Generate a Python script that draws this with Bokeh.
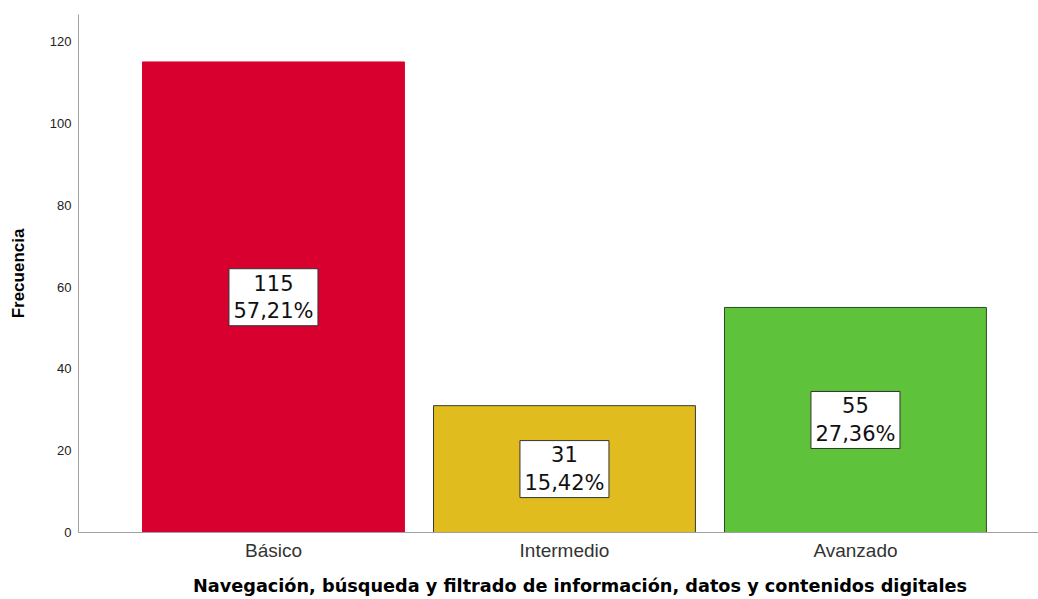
from bokeh.plotting import figure
from bokeh.models import ColumnDataSource, Range1d, FixedTicker
from bokeh.core.properties import value
from bokeh.embed import file_html
from bokeh.resources import INLINE

categories = ["Básico", "Intermedio", "Avanzado"]
counts = [115, 31, 55]
percents = ["57,21%", "15,42%", "27,36%"]
colors = ["#D7002F", "#E0BC1E", "#5EC23A"]
outline = ["#D7002F", "#3A3A2A", "#2E4A22"]
y_ticks = [0, 20, 40, 60, 80, 100, 120]
x_title = "Navegación, búsqueda y filtrado de información, datos y contenidos digitales"
y_title = "Frecuencia"

xs = list(range(1, len(categories) + 1))
src = ColumnDataSource(dict(
    x=xs, top=counts, color=colors, line=outline,
    mid=[c / 2 for c in counts],
    label=[f"{c}\n{p}" for c, p in zip(counts, percents)],
))

p = figure(width=1038, height=599, output_backend="svg", toolbar_location=None,
           x_range=Range1d(0.33, 3.629), y_range=Range1d(0, 126.6),
           min_border_left=78, min_border_right=0, min_border_top=14, min_border_bottom=67)
p.outline_line_color = None
p.xgrid.visible = False
p.ygrid.visible = False

p.vbar(x="x", top="top", bottom=0, width=0.9, source=src,
       fill_color="color", line_color="line", line_width=1)

p.rect(x="x", y="mid", width=89, height=57, width_units="screen", height_units="screen",
       source=src, fill_color="white", line_color="#333333", line_width=1)
p.text(x="x", y="mid", text="label", source=src, text_align="center",
       text_baseline="middle", text_font=value("DejaVu Sans"), text_font_size="21px",
       text_color="#111111", text_line_height=1.14)

# axes
p.yaxis.ticker = FixedTicker(ticks=y_ticks)
p.yaxis.axis_line_color = "#A0A0A0"
p.yaxis.major_tick_line_color = None
p.yaxis.minor_tick_line_color = None
p.yaxis.major_tick_out = 0
p.yaxis.major_tick_in = 0
p.yaxis.minor_tick_out = 0
p.yaxis.major_label_standoff = 7
p.yaxis.major_label_text_font = "Liberation Sans"
p.yaxis.major_label_text_font_size = "13px"
p.yaxis.major_label_text_color = "#222222"
p.yaxis.axis_label = y_title
p.yaxis.axis_label_text_font = "Liberation Sans"
p.yaxis.axis_label_text_font_style = "bold"
p.yaxis.axis_label_text_font_size = "17px"
p.yaxis.axis_label_text_color = "#000000"
p.yaxis.axis_label_standoff = 19

p.xaxis.ticker = FixedTicker(ticks=xs)
p.xaxis.major_label_overrides = {x: c for x, c in zip(xs, categories)}
p.xaxis.axis_line_color = "#A0A0A0"
p.xaxis.major_tick_line_color = None
p.xaxis.minor_tick_line_color = None
p.xaxis.major_tick_out = 0
p.xaxis.major_tick_in = 0
p.xaxis.minor_tick_out = 0
p.xaxis.major_label_standoff = 7
p.xaxis.major_label_text_font = "Liberation Sans"
p.xaxis.major_label_text_font_size = "19px"
p.xaxis.major_label_text_color = "#333333"
p.xaxis.axis_label = "\u00a0" * 7 + x_title
p.xaxis.axis_label_standoff = 12
p.xaxis.axis_label_text_font = "DejaVu Sans"
p.xaxis.axis_label_text_font_style = "bold"
p.xaxis.axis_label_text_font_size = "17.7px"
p.xaxis.axis_label_text_color = "#000000"

open("out.html", "w").write(file_html(p, INLINE))
